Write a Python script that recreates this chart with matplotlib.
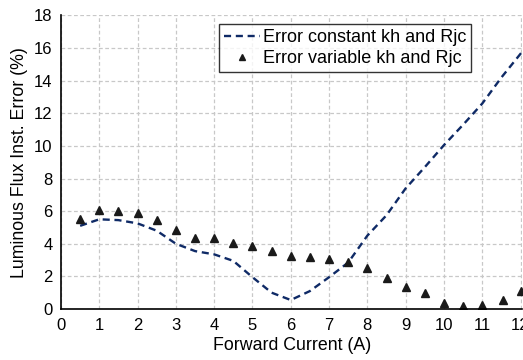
import numpy as np
import matplotlib.pyplot as plt

plt.rcParams['font.family'] = ['Liberation Sans', 'DejaVu Sans']

# Error with constant kh and Rjc (dashed curve)
current_const = [0.5, 1.0, 1.5, 2.0, 2.5, 3.0, 3.5, 4.0, 4.5, 5.0, 5.5, 6.0,
                 6.5, 7.0, 7.5, 8.0, 8.5, 9.0, 9.5, 10.0, 10.5, 11.0, 11.5, 12.05]
error_const = [5.1, 5.5, 5.45, 5.25, 4.8, 4.0, 3.55, 3.35, 2.95, 1.95, 1.0, 0.55,
               1.1, 1.95, 2.85, 4.5, 5.75, 7.4, 8.7, 10.05, 11.3, 12.6, 14.2, 15.8]

# Error with variable kh and Rjc (triangles)
current_var = [0.5, 1.0, 1.5, 2.0, 2.5, 3.0, 3.5, 4.0, 4.5, 5.0, 5.5, 6.0,
               6.5, 7.0, 7.5, 8.0, 8.5, 9.0, 9.5, 10.0, 10.5, 11.0, 11.55, 12.0]
error_var = [5.5, 6.05, 6.0, 5.88, 5.47, 4.86, 4.38, 4.38, 4.07, 3.89, 3.58, 3.25,
             3.17, 3.05, 2.9, 2.51, 1.87, 1.32, 0.99, 0.39, 0.17, 0.25, 0.56, 1.1]

fig = plt.figure(figsize=(5.23, 3.6), dpi=100)
ax = fig.add_axes([0.1166, 0.1417, 0.8824, 0.8153])

ax.plot(current_const, error_const, '--', color='#0f2a66', linewidth=1.7,
        dashes=(3.0, 2.0), label='Error constant kh and Rjc')
ax.plot(current_var, error_var, '^', color='#1a1a1a', markersize=6.2,
        linestyle='none', label='Error variable kh and Rjc')

ax.set_xlim(0, 12.05)
ax.set_ylim(0, 18)
ax.set_xticks(range(0, 13))
ax.set_yticks(range(0, 19, 2))
ax.tick_params(length=0, labelsize=12)
ax.tick_params(axis='x', pad=6.8)
ax.tick_params(axis='y', pad=6)
ax.grid(True, color='#c8c8c8', linestyle=(0, (3, 2)), linewidth=0.9)
ax.set_axisbelow(True)
for side in ['top', 'right']:
    ax.spines[side].set_visible(False)
for side in ['left', 'bottom']:
    ax.spines[side].set_color('black')
    ax.spines[side].set_linewidth(1.2)

ax.set_xlabel('Forward Current (A)', fontsize=12.8, labelpad=2.5)
ax.set_ylabel('Luminous Flux Inst. Error (%)', fontsize=12.8, labelpad=4)

leg = ax.legend(loc='upper left', bbox_to_anchor=(0.3424, 0.971), fontsize=13,
                frameon=True, fancybox=False, edgecolor='black',
                handlelength=2.0, handletextpad=0.15, borderpad=0.28,
                labelspacing=0.22, borderaxespad=0, markerscale=0.75)
leg.get_frame().set_linewidth(1.0)

fig.savefig('out.png', dpi=100)
